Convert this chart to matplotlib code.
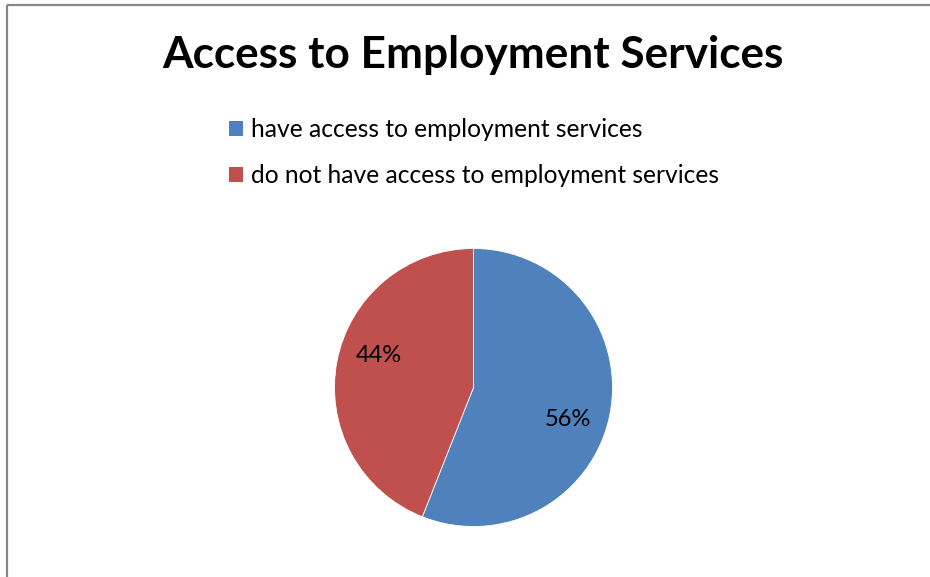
import numpy as np
import matplotlib.pyplot as plt
from matplotlib.patches import Patch

# Survey result: access to employment services
labels = ['have access to employment services',
          'do not have access to employment services']
shares = [56, 44]
colors = ['#4F81BD', '#C0504D']

plt.rcParams['font.family'] = ['Lato', 'DejaVu Sans']

W, H = 930, 577
fig = plt.figure(figsize=(W / 100, H / 100), dpi=100)
ax = fig.add_axes([0, 0, 1, 1])

# chart frame (only top and left edges fall inside the image)
ax.plot([6.5, W], [H - 4.5, H - 4.5], color='#878787', lw=1.6, solid_capstyle='butt')
ax.plot([6.5, 6.5], [H - 4.5, 0], color='#878787', lw=1.6, solid_capstyle='butt')

ax.text(473, H - 55, 'Access to Employment Services', ha='center', va='center',
        fontsize=31.8, fontweight='bold', color='black')

cx, cy, r = 473.5, H - 387.5, 139
wedges, _, autotexts = ax.pie(shares, colors=colors, startangle=90, counterclock=False,
                              center=(cx, cy), radius=r, frame=True,
                              autopct='%1.0f%%', pctdistance=0.71,
                              wedgeprops=dict(edgecolor='white', linewidth=0.6),
                              textprops=dict(fontsize=17, color='black'))

# nudge percent labels a little clockwise within their wedges
for w, t in zip(wedges, autotexts):
    ang = np.deg2rad((w.theta1 + w.theta2) / 2 - 8)
    t.set_position((cx + 0.72 * r * np.cos(ang), cy + 0.72 * r * np.sin(ang)))

ax.set_xlim(0, W)
ax.set_ylim(0, H)
ax.set_aspect('equal')
ax.axis('off')

handles = [Patch(facecolor=c, edgecolor='none') for c in colors]
ax.legend(handles, labels, loc='upper left', bbox_to_anchor=(217, H - 106),
          bbox_transform=ax.transData, frameon=False, fontsize=17.7,
          handlelength=0.57, handleheight=0.57, handletextpad=0.33,
          labelspacing=0.93, borderpad=0)

fig.savefig('out.png', dpi=100)
